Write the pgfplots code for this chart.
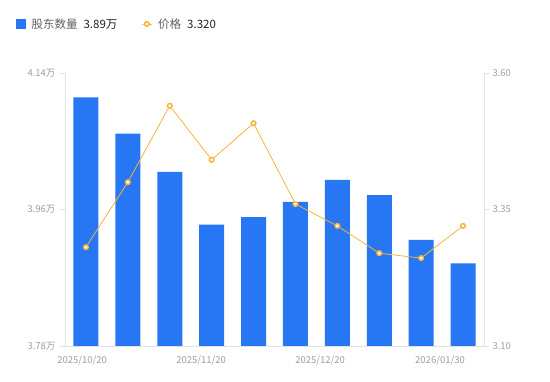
\documentclass[border=0pt]{standalone}
\usepackage{pgfplots}
\pgfplotsset{compat=1.18}
\usepackage{fontspec}
\setmainfont{Noto Sans CJK SC}
\definecolor{barblue}{HTML}{2777F5}
\definecolor{lineor}{HTML}{F6B43A}
\definecolor{axgray}{HTML}{E2E2E8}
\definecolor{tickgray}{HTML}{9C9CAC}
\definecolor{legtxt}{HTML}{606066}
\definecolor{legval}{HTML}{222222}
\pgfplotsset{shortline/.style={legend image code/.code={\draw[mark repeat=2,mark phase=2,##1] plot coordinates {(0pt,0pt) (5pt,0pt) (10pt,0pt)};}},
  squareleg/.style={legend image code/.code={\fill[barblue] (0pt,-4.5pt) rectangle (9pt,4.5pt);}}}
\begin{document}
\begin{tikzpicture}
\path[use as bounding box] (0,0) rectangle (550pt,381pt);
\begin{axis}[
  at={(65pt,35pt)}, anchor=south west,
  scale only axis, width=419pt, height=273pt,
  xmin=0, xmax=10, ymin=3.78, ymax=4.14,
  axis y line*=left, axis x line*=bottom,
  axis line style={axgray, line width=0.8pt},
  ytick={3.78,3.96,4.14},
  yticklabels={3.78万,3.96万,4.14万},
  xtick={0.41,3.25,6.09,8.95},
  xticklabels={2025/10/20,2025/11/20,2025/12/20,2026/01/30},
  tick align=outside, major tick length=5pt,
  major tick style={axgray, line width=0.8pt},
  x tick style={draw=none},
  tick label style={font=\fontsize{9.5}{11}\selectfont, text=tickgray},
  xticklabel style={yshift=-1pt},
  yticklabel style={xshift=-1pt},
  ybar, bar width=25pt,
]
\addplot[fill=barblue, draw=none, bar shift=0pt] coordinates {
(0.5,4.108) (1.5,4.060) (2.5,4.0095) (3.5,3.940) (4.5,3.950)
(5.5,3.970) (6.5,3.999) (7.5,3.979) (8.5,3.920) (9.5,3.889)};
\node[font=\fontsize{11}{12}\selectfont, text=tickgray] at (rel axis cs:0,1) [xshift=-6pt, yshift=16pt] {户};
\end{axis}
\begin{axis}[
  at={(65pt,35pt)}, anchor=south west,
  scale only axis, width=419pt, height=273pt,
  xmin=0, xmax=10, ymin=3.10, ymax=3.60,
  axis y line*=right, axis x line=none,
  axis line style={axgray, line width=0.8pt},
  ytick={3.10,3.35,3.60},
  yticklabel style={/pgf/number format/.cd, fixed, fixed zerofill, precision=2, assume math mode=true},
  tick align=outside, major tick length=5pt,
  major tick style={axgray, line width=0.8pt},
  tick label style={font=\fontsize{9.5}{11}\selectfont, text=tickgray},
  legend style={at={(axis description cs:0,1)}, anchor=west, xshift=-49pt, yshift=49pt,
    draw=none, fill=none, inner sep=0pt, font=\fontsize{11.5}{13}\selectfont,
    /tikz/every odd column/.append style={column sep=4pt},
    /tikz/every even column/.append style={column sep=22pt}},
  legend columns=2, legend cell align=left,
]
\addlegendimage{squareleg}
\addlegendentry{\textcolor{legtxt}{股东数量}\hspace{6pt}\textcolor{legval}{3.89万}}
\addplot[lineor, line width=0.8pt, mark=*, mark size=2.3pt,
  mark options={fill=white, draw=lineor, line width=1.5pt}, shortline]
 coordinates {
(0.5,3.281) (1.5,3.400) (2.5,3.540) (3.5,3.441) (4.5,3.508)
(5.5,3.360) (6.5,3.320) (7.5,3.270) (8.5,3.261) (9.5,3.320)};
\addlegendentry{\textcolor{legtxt}{价格}\hspace{6pt}\textcolor{legval}{3.320}}
\node[font=\fontsize{11}{12}\selectfont, text=tickgray] at (rel axis cs:1,1) [xshift=6pt, yshift=16pt] {元};
\end{axis}
\end{tikzpicture}
\end{document}
